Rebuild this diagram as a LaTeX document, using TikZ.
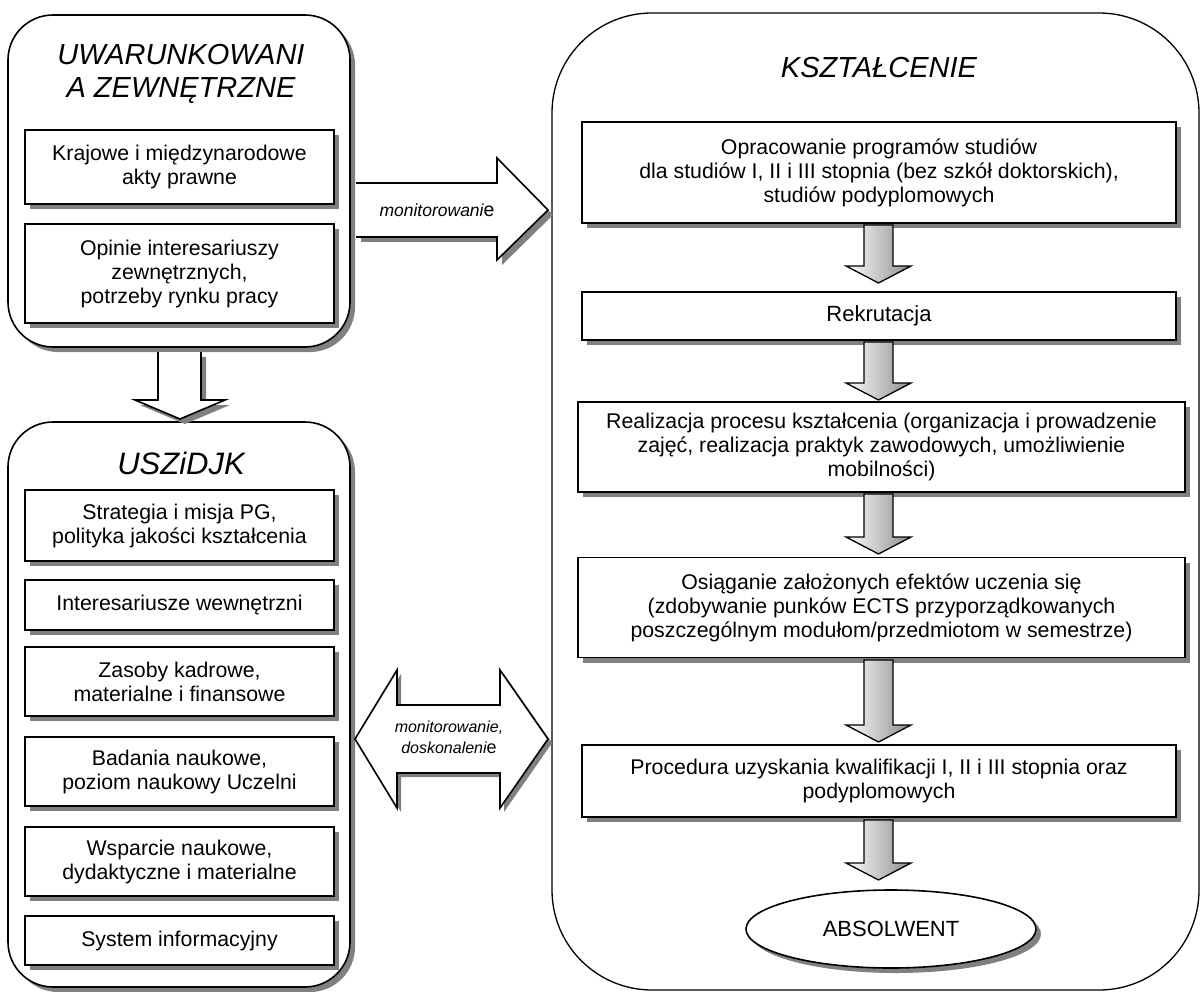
\documentclass[tikz,border=0pt]{standalone}
\usepackage{fontspec}
\setmainfont{Liberation Sans}
\usetikzlibrary{shadows,shapes.geometric}
\tikzset{
  shd/.style={drop shadow={shadow xshift=5pt,shadow yshift=-5pt,fill=black!50,opacity=1}},
  ibox/.style={draw,line width=1.6pt,fill=white,align=center,inner sep=0pt,font=\fontsize{21.3}{24}\selectfont,shd},
  cont/.style={draw,line width=1.6pt,fill=white,rounded corners=45pt,inner sep=0pt,shd},
  bigcont/.style={draw,line width=1.3pt,fill=white,rounded corners=100pt,inner sep=0pt},
  ttl/.style={align=center,font=\fontsize{29}{33}\selectfont\itshape},
  lbl/.style={align=center,font=\fontsize{17.5}{21}\selectfont\itshape},
  hollow/.style={draw,line width=1.6pt,line join=miter},
  hshadow/.style={fill=black!50,draw=none},
  grad/.style={draw,line width=1.3pt,left color=white,right color=black!45},
}
\newcommand{\gradarrow}[3]{%
  \draw[grad] ({#1-14.5},#2) -- ({#1+14.5},#2) -- ({#1+14.5},{#3-17}) -- ({#1+32.5},{#3-17}) -- (#1,#3) -- ({#1-32.5},{#3-17}) -- ({#1-14.5},{#3-17}) -- cycle;}
\begin{document}
\begin{tikzpicture}[x=1pt,y=-1pt]
\useasboundingbox (0,0) rectangle (1201,992);

% right container
\node[bigcont,minimum width=647pt,minimum height=977pt] (kcont) at (875.5,501.5) {};
\node[ttl] (ktitle) at (879,68) {KSZTAŁCENIE};

% left containers
\node[cont,minimum width=342pt,minimum height=332pt] (ucont) at (179,181) {};
\node[ttl] (utitle) at (181,74) {UWARUNKOWANI\\A ZEWNĘTRZNE};
\node[ibox,minimum width=309pt,minimum height=74pt] (u1) at (179.5,167) {Krajowe i międzynarodowe\\akty prawne};
\node[ibox,minimum width=309pt,minimum height=99pt] (u2) at (179.5,273.5) {Opinie interesariuszy\\zewnętrznych,\\potrzeby rynku pracy};

\node[cont,minimum width=342pt,minimum height=565pt] (scont) at (179,704.5) {};
\node[ttl,font=\fontsize{31}{35}\selectfont\itshape] (stitle) at (181,463) {USZiDJK};
\node[ibox,minimum width=309pt,minimum height=71pt] (s1) at (179.5,525.5) {Strategia i misja PG,\\polityka jakości kształcenia};
\node[ibox,minimum width=309pt,minimum height=50pt] (s2) at (179.5,605) {Interesariusze wewnętrzni};
\node[ibox,minimum width=309pt,minimum height=69pt] (s3) at (179.5,681.5) {Zasoby kadrowe,\\materialne i finansowe};
\node[ibox,minimum width=309pt,minimum height=69pt] (s4) at (179.5,771.5) {Badania naukowe,\\poziom naukowy Uczelni};
\node[ibox,minimum width=309pt,minimum height=69pt] (s5) at (179.5,861.5) {Wsparcie naukowe,\\dydaktyczne i materialne};
\node[ibox,minimum width=309pt,minimum height=49pt] (s6) at (179.5,940.5) {System informacyjny};

% hollow down arrow between left containers
\fill[hshadow,shift={(5,5)}] (158,352) -- (158,400) -- (135,400) -- (180,419) -- (225,400) -- (201,400) -- (201,352) -- cycle;
\fill[white] (158,352) -- (158,400) -- (135,400) -- (180,419) -- (225,400) -- (201,400) -- (201,352) -- cycle;
\draw[hollow] (158,352) -- (158,400) -- (135,400) -- (180,419) -- (225,400) -- (201,400) -- (201,352);

% monitorowanie arrow
\fill[hshadow,shift={(5,5)}] (356,183) -- (497,183) -- (497,158) -- (548,210) -- (497,260) -- (497,237) -- (356,237) -- cycle;
\fill[white] (356,183) -- (497,183) -- (497,158) -- (548,210) -- (497,260) -- (497,237) -- (356,237) -- cycle;
\draw[hollow] (356,183) -- (497,183) -- (497,158) -- (548,210) -- (497,260) -- (497,237) -- (356,237);
\node[lbl] (mon) at (437,210) {monitorowani{\upshape\fontsize{19.5}{21}\selectfont e}};

% double arrow
\fill[hshadow,shift={(4,4)}] (355,739) -- (397,670) -- (397,705) -- (500,705) -- (500,670) -- (548,739) -- (500,808) -- (500,773) -- (397,773) -- (397,808) -- cycle;
\draw[hollow,fill=white] (355,739) -- (397,670) -- (397,705) -- (500,705) -- (500,670) -- (548,739) -- (500,808) -- (500,773) -- (397,773) -- (397,808) -- cycle;
\node[lbl,font=\fontsize{16}{21}\selectfont\itshape] (mond) at (449,737) {monitorowanie,\\doskonaleni{\upshape\fontsize{18}{21}\selectfont e}};

% right column boxes
\node[ibox,minimum width=594pt,minimum height=101pt] (k1) at (879,172.5) {Opracowanie programów studiów\\dla studiów I, II i III stopnia (bez szkół doktorskich),\\studiów podyplomowych};
\node[ibox,minimum width=594pt,minimum height=48pt,font=\fontsize{22}{26}\selectfont] (k2) at (879,316) {Rekrutacja};
\node[ibox,minimum width=607pt,minimum height=90pt] (k3) at (881.5,447) {Realizacja procesu kształcenia (organizacja i prowadzenie\\zajęć, realizacja praktyk zawodowych, umożliwienie\\mobilności)};
\node[ibox,minimum width=607pt,minimum height=100pt] (k4) at (881.5,607.5) {Osiąganie założonych efektów uczenia się\\(zdobywanie punków ECTS przyporządkowanych\\poszczególnym modułom/przedmiotom w semestrze)};
\node[ibox,minimum width=594pt,minimum height=72pt] (k5) at (879,781) {Procedura uzyskania kwalifikacji I, II i III stopnia oraz\\podyplomowych};
\node[ellipse,draw,line width=1.6pt,fill=white,shd,minimum width=290pt,minimum height=78pt,inner sep=0pt,font=\fontsize{22}{26}\selectfont] (abs) at (891,929) {ABSOLWENT};

% gradient arrows
\gradarrow{878.5}{225}{283}
\gradarrow{878.5}{342}{400}
\gradarrow{878.5}{494}{554}
\gradarrow{878.5}{660}{742}
\gradarrow{878.5}{820}{880}
\end{tikzpicture}
\end{document}
